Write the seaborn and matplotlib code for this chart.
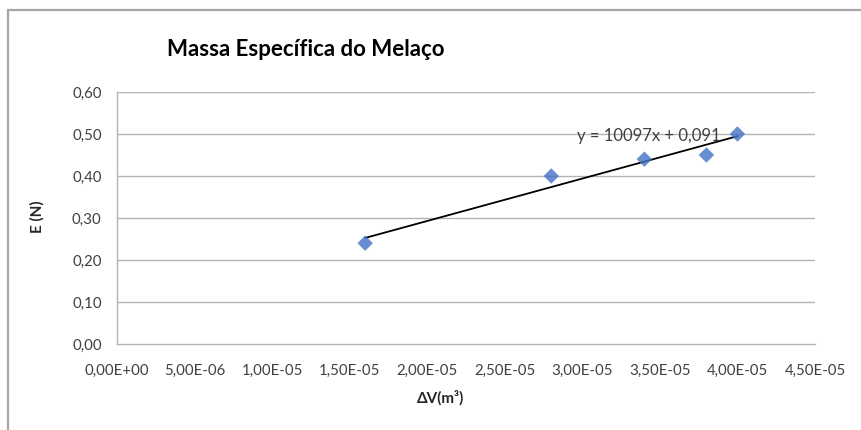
import numpy as np
import pandas as pd
import matplotlib
matplotlib.use("Agg")
import matplotlib.pyplot as plt
from matplotlib.lines import Line2D
import seaborn as sns

# Measured points: displaced volume (m³) vs. buoyant force E (N)
delta_v = [1.6e-5, 2.8e-5, 3.4e-5, 3.8e-5, 4.0e-5]
empuxo = [0.24, 0.40, 0.44, 0.45, 0.50]
x_ticks = [0, 5e-6, 1e-5, 1.5e-5, 2e-5, 2.5e-5, 3e-5, 3.5e-5, 4e-5, 4.5e-5]
y_ticks = [0.0, 0.1, 0.2, 0.3, 0.4, 0.5, 0.6]

df = pd.DataFrame({"dV": delta_v, "E": empuxo})

sns.set_theme(style="white")
plt.rcParams["font.family"] = ["Lato", "DejaVu Sans"]

fig = plt.figure(figsize=(8.62, 4.30), dpi=100)
ax = fig.add_axes([117 / 862, 1 - 344 / 430, 698 / 862, 252 / 430])

grid_c = "#b3b3b3"
for yv in y_ticks[1:]:
    ax.axhline(yv, color=grid_c, lw=1.0, zorder=0)

sns.regplot(data=df, x="dV", y="E", ax=ax, ci=None, truncate=True,
            marker="D",
            scatter_kws=dict(s=62, color="#4472C4", edgecolor="none", zorder=3),
            line_kws=dict(color="black", lw=1.3, zorder=2))

slope, intercept = np.polyfit(delta_v, empuxo, 1)
eq = f"y = {slope:.0f}x + {intercept:.3f}".replace(".", ",")
fig.text(721 / 862, 1 - 136 / 430, eq, ha="right", va="center",
         fontsize=12, color="#404040")

ax.set_xlim(0, 4.5e-5)
ax.set_ylim(0, 0.6)
ax.set_xticks(x_ticks)
ax.set_yticks(y_ticks)
ax.set_xticklabels([f"{v:.2E}".replace(".", ",") for v in x_ticks])
ax.set_yticklabels([f"{v:.2f}".replace(".", ",") for v in y_ticks])
ax.tick_params(length=0, labelsize=10.8, labelcolor="#404040")
ax.tick_params(axis="x", pad=14)
ax.tick_params(axis="y", pad=11)

for side in ["top", "right"]:
    ax.spines[side].set_visible(False)
for side in ["left", "bottom"]:
    ax.spines[side].set_color(grid_c)
    ax.spines[side].set_linewidth(1.0)

ax.set_xlabel("")
ax.set_ylabel("")
fig.text(441 / 862, 1 - 398 / 430, "ΔV(m³)", ha="center", va="center",
         fontsize=11, fontweight="bold", color="#262626")
fig.text(37 / 862, 1 - 217 / 430, "E (N)", ha="center", va="center",
         rotation=90, fontsize=11, fontweight="bold", color="#262626")
fig.text(306 / 862, 1 - 50 / 430, "Massa Específica do Melaço", ha="center",
         va="center", fontsize=16, fontweight="bold", color="black")

# chart frame edges
fig.add_artist(Line2D([8 / 862, 1], [1 - 10 / 430, 1 - 10 / 430],
                      transform=fig.transFigure, color="#a6a6a6", lw=1.6))
fig.add_artist(Line2D([8 / 862, 8 / 862], [0, 1 - 10 / 430],
                      transform=fig.transFigure, color="#a6a6a6", lw=1.6))

fig.savefig("out.png", dpi=100, facecolor="white")
